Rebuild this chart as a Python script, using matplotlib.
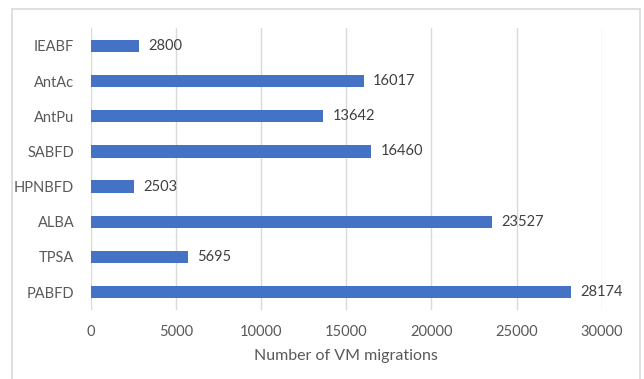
import matplotlib as mpl
import matplotlib.pyplot as plt
from matplotlib.patches import Rectangle

# policies, bottom to top as they appear on the y axis
policies = ["PABFD", "TPSA", "ALBA", "HPNBFD", "SABFD", "AntPu", "AntAc", "IEABF"]
migrations = [28174, 5695, 23527, 2503, 16460, 13642, 16017, 2800]
xticks = [0, 5000, 10000, 15000, 20000, 25000, 30000]

mpl.rcParams.update({'font.family': ['Lato', 'DejaVu Sans'], 'font.size': 10.5})
text_color = '#595959'
bar_color = '#4472C4'

W, H = 644, 379
fig = plt.figure(figsize=(W / 100, H / 100), dpi=100, facecolor='white')
ax = fig.add_axes([91 / W, 1 - 309.6 / H, (601.7 - 91) / W, (309.6 - 28.4) / H])

# chart frame (bottom edge falls outside the image)
fig.patches.append(Rectangle((12.5 / W, -0.05), (640 - 12.5) / W, 1.05 - 8.5 / H,
                             transform=fig.transFigure, fill=False,
                             edgecolor='#d9d9d9', linewidth=1.2))

ypos = list(range(len(policies)))
ax.barh(ypos, migrations, height=0.35, color=bar_color, zorder=3)
for y, v in zip(ypos, migrations):
    ax.text(v + 550, y, str(v), va='center', ha='left', color='#404040', fontsize=10.5)

ax.set_xlim(0, 30000)
ax.set_ylim(-0.5, len(policies) - 0.5)
ax.set_xticks(xticks)
ax.set_xticklabels([str(t) for t in xticks])
ax.set_yticks(ypos)
ax.set_yticklabels(policies)
ax.tick_params(axis='both', length=0, colors=text_color, labelsize=10.5)
ax.tick_params(axis='x', pad=11)
ax.tick_params(axis='y', pad=12)
ax.grid(axis='x', color='#d9d9d9', linewidth=1, zorder=0)
for s in ax.spines.values():
    s.set_visible(False)
ax.set_xlabel("Number of VM migrations", color=text_color, fontsize=11.5, labelpad=7)

fig.savefig("out.png", dpi=100, facecolor='white')
